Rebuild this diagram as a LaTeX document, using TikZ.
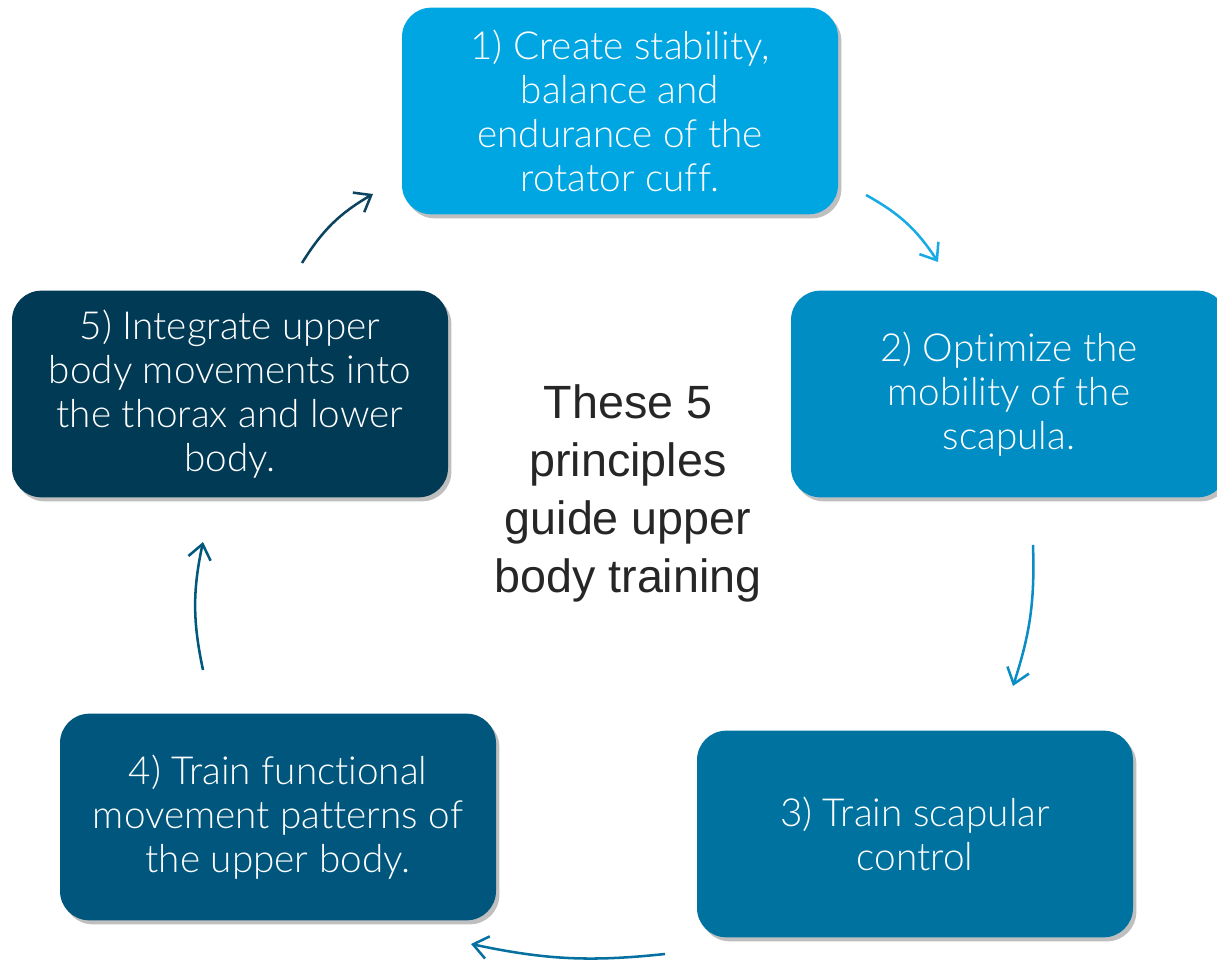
\documentclass[tikz,border=0pt]{standalone}
\usepackage{fontspec}
\setmainfont{Lato Light}[Ligatures={NoCommon}]
\newfontfamily\ctrfont{Liberation Sans}
\usetikzlibrary{shadows,arrows.meta}
\definecolor{cA}{RGB}{0,166,226}
\definecolor{cB}{RGB}{0,141,196}
\definecolor{cC}{RGB}{0,114,160}
\definecolor{cD}{RGB}{0,86,124}
\definecolor{cE}{RGB}{0,58,85}
\definecolor{aA}{RGB}{12,68,95}
\definecolor{aB}{RGB}{24,170,228}
\definecolor{aC}{RGB}{10,140,196}
\definecolor{aD}{RGB}{6,112,160}
\definecolor{aE}{RGB}{0,88,125}
\begin{document}
\begin{tikzpicture}[x=0.75pt,y=0.75pt,
  box/.style={rounded corners=22pt, minimum width=327pt, minimum height=155pt,
    text=white, align=center, font=\fontsize{29}{33}\selectfont,
    drop shadow={shadow xshift=2.5pt, shadow yshift=-3pt, opacity=0.25, fill=black}},
  arr/.style={line width=1.9pt, -{Straight Barb[length=11pt,width=17pt,line width=1.9pt]}}]
\useasboundingbox (0,0) rectangle (1217,961);
\node[box, fill=cA] (b1) at (620,850) {1) Create stability,\\balance and\\endurance of the\\rotator cuff.};
\node[box, fill=cB] (b2) at (1009,567) {2) Optimize the\\mobility of the\\scapula.};
\node[box, fill=cC] (b3) at (915,127) {3) Train scapular\\control};
\node[box, fill=cD] (b4) at (278,144) {4) Train functional\\movement patterns of\\the upper body.};
\node[box, fill=cE] (b5) at (230,567) {5) Integrate upper\\body movements into\\the thorax and lower\\body.};
\node[align=center, text=black!85, font=\ctrfont\fontsize{35}{43.5}\selectfont] (ctr) at (628,468) {These 5\\principles\\guide upper\\body training};
\coordinate (s51) at (302,698); \coordinate (e51) at (373,767);
\coordinate (s12) at (866,766); \coordinate (e12) at (938,699);
\coordinate (s23) at (1033,416); \coordinate (e23) at (1013,275);
\coordinate (s34) at (665,7); \coordinate (e34) at (471,17);
\coordinate (s45) at (203,291); \coordinate (e45) at (203,419);
\draw[arr, aA] (s51) to[bend left=14] (e51);
\draw[arr, aB] (s12) to[bend left=14] (e12);
\draw[arr, aC] (s23) to[bend left=10] (e23);
\draw[arr, aD] (s34) to[bend left=9] (e34);
\draw[arr, aE] (s45) to[bend left=12] (e45);
\end{tikzpicture}
\end{document}
